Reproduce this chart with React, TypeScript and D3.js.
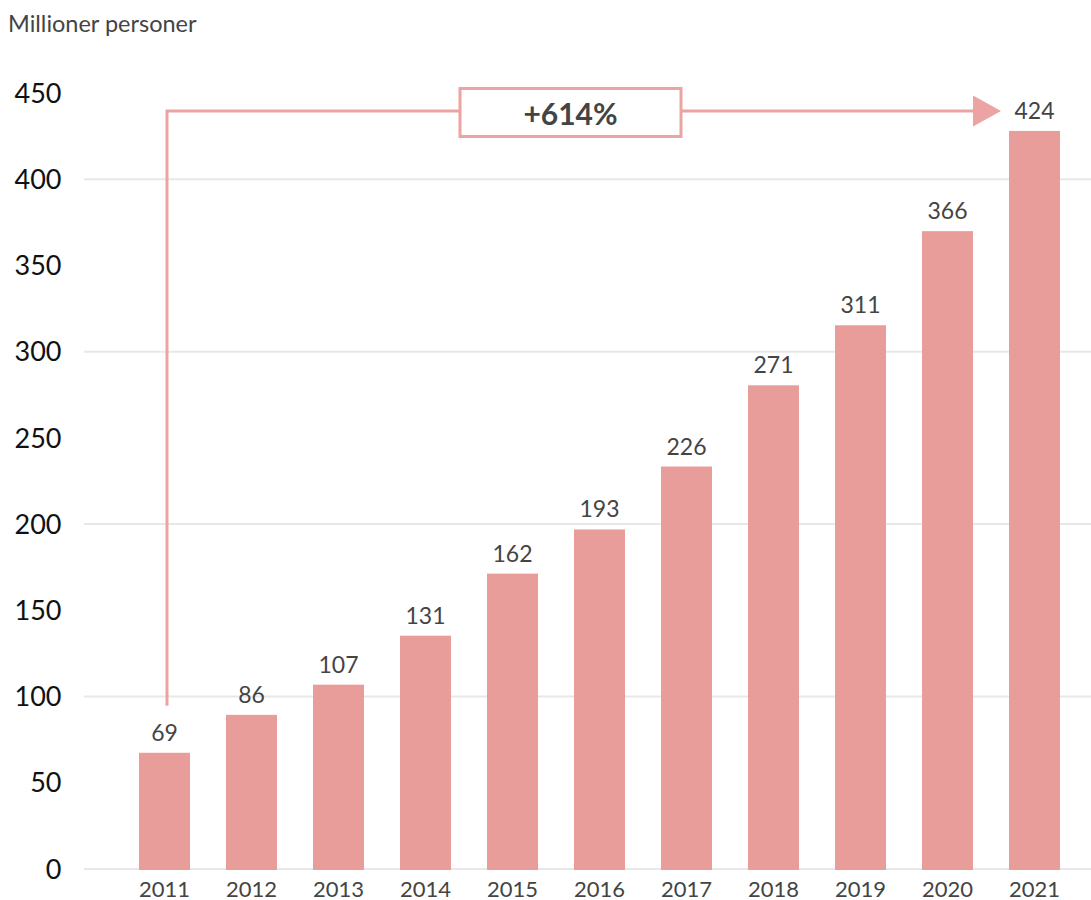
import React from "react";
import * as d3 from "d3";

const years = ["2011","2012","2013","2014","2015","2016","2017","2018","2019","2020","2021"];
const barValues = [67.4, 89.4, 106.9, 135.3, 171.3, 196.9, 233.4, 280.5, 315.3, 369.9, 428];
const valueLabels = ["69","86","107","131","162","193","226","271","311","366","424"];
const yTicks = [0, 50, 100, 150, 200, 250, 300, 350, 400, 450];
const gridTicks = [0, 100, 200, 300, 400];
const growthLabel = "+614%";
const unitLabel = "Millioner personer";

const W = 1091, H = 900;
const PINK = "#e89d9b";
const FONT = "Lato, 'Open Sans', sans-serif";

export default function App() {
  const x = d3.scaleBand<string>().domain(years).range([121, 1078]).paddingInner(0.414).paddingOuter(0.207);
  const y = d3.scaleLinear().domain([0, 450]).range([869, 93]);

  const xStart = (x(years[0]) as number) + x.bandwidth() / 2 + 2.5;
  const lineY = 111;
  const lastX = x(years[years.length - 1]) as number;
  const tipX = lastX - 8;
  const baseX = tipX - 28;
  const startY = y(barValues[0]) - 47;

  return (
    <svg width={W} height={H} style={{ position: "absolute", left: 0, top: 0, background: "#fff" }} fontFamily={FONT}>
      <text x={8} y={31.5} fontSize={23.5} fill="#444">{unitLabel}</text>
      {gridTicks.map((t) => (
        <line key={t} x1={84} x2={W} y1={y(t)} y2={y(t)} stroke="#e8e8e8" strokeWidth={2} />
      ))}
      {yTicks.map((t) => (
        <text key={t} x={61.5} y={y(t)} dy="0.36em" textAnchor="end" fontSize={27} fill="#111">{t}</text>
      ))}
      {years.map((yr, i) => (
        <g key={yr}>
          <rect x={x(yr)} y={y(barValues[i])} width={x.bandwidth()} height={y(0) + 1 - y(barValues[i])} fill={PINK} />
          <text x={(x(yr) as number) + x.bandwidth() / 2} y={y(barValues[i]) - 12} textAnchor="middle" fontSize={23} fill="#444">{valueLabels[i]}</text>
          <text x={(x(yr) as number) + x.bandwidth() / 2} y={897} textAnchor="middle" fontSize={22} fill="#444">{yr}</text>
        </g>
      ))}
      <path d={`M${xStart},${startY} L${xStart},${lineY} L${baseX},${lineY}`} fill="none" stroke="#eba4a2" strokeWidth={3} />
      <path d={`M${baseX},${lineY - 15.5} L${tipX},${lineY} L${baseX},${lineY + 15.5} Z`} fill="#eba4a2" />
      <rect x={460} y={88.5} width={221} height={48} fill="#fff" stroke="#eba4a2" strokeWidth={3} />
      <text x={570.5} y={114} dy="0.36em" textAnchor="middle" fontSize={30} fontWeight={700} fill="#444">{growthLabel}</text>
    </svg>
  );
}
